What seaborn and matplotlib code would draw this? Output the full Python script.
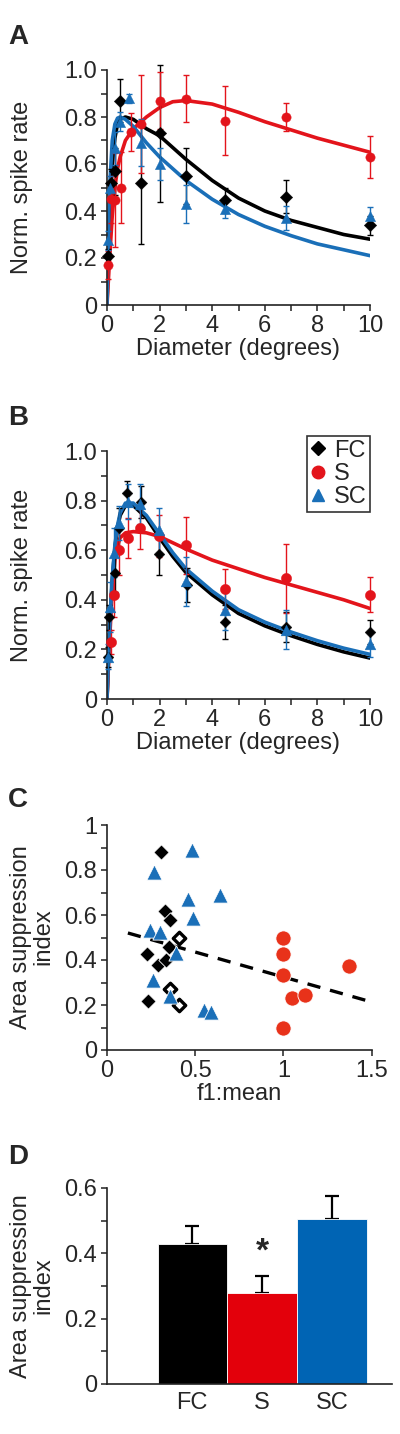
import numpy as np
import matplotlib
matplotlib.use("Agg")
import matplotlib.pyplot as plt
from matplotlib.lines import Line2D
import seaborn as sns

# ---- data ----
black = "#000000"
red = "#e3141b"
blue = "#1a6fb8"

# panel A: measured points (diameter in degrees)
a_fc_x = [0.05, 0.15, 0.3, 0.5, 1.3, 2.0, 3.0, 4.5, 6.8, 10.0]
a_fc_y = [0.21, 0.52, 0.57, 0.87, 0.52, 0.73, 0.55, 0.445, 0.46, 0.34]
a_fc_e = [0.03, 0.06, 0.10, 0.09, 0.26, 0.29, 0.12, 0.055, 0.07, 0.04]
a_s_x = [0.05, 0.17, 0.3, 0.55, 0.9, 1.3, 2.0, 3.0, 4.5, 6.8, 10.0]
a_s_y = [0.17, 0.45, 0.445, 0.50, 0.735, 0.77, 0.87, 0.877, 0.785, 0.80, 0.63]
a_s_e = [0.06, 0.10, 0.20, 0.15, 0.08, 0.21, 0.12, 0.10, 0.147, 0.06, 0.09]
a_sc_x = [0.05, 0.12, 0.3, 0.5, 0.85, 1.3, 2.0, 3.0, 4.5, 6.8, 10.0]
a_sc_y = [0.275, 0.50, 0.667, 0.78, 0.88, 0.69, 0.60, 0.43, 0.41, 0.37, 0.377]
a_sc_e = [0.04, 0.05, 0.07, 0.04, 0.02, 0.10, 0.07, 0.08, 0.04, 0.05, 0.04]

# panel A: fitted curves, read at these diameters
curve_x = [0, 0.05, 0.1, 0.2, 0.3, 0.4, 0.5, 0.7, 1, 1.5, 2, 2.5, 3, 4, 5, 6, 7, 8, 9, 10]
a_fc_fit = [0, 0.2, 0.38, 0.6, 0.71, 0.77, 0.79, 0.80, 0.79, 0.75, 0.72, 0.67, 0.62,
            0.53, 0.455, 0.40, 0.36, 0.33, 0.30, 0.28]
a_s_fit = [0, 0.1, 0.2, 0.38, 0.5, 0.58, 0.63, 0.70, 0.75, 0.80, 0.84, 0.865, 0.87,
           0.855, 0.82, 0.78, 0.745, 0.71, 0.68, 0.65]
a_sc_fit = [0, 0.3, 0.5, 0.7, 0.77, 0.795, 0.80, 0.79, 0.76, 0.69, 0.63, 0.58, 0.53,
            0.45, 0.385, 0.335, 0.295, 0.26, 0.235, 0.21]

# panel B: measured points
b_fc_x = [0.05, 0.09, 0.32, 0.45, 0.76, 1.31, 1.98, 3.05, 4.5, 6.8, 10.0]
b_fc_y = [0.17, 0.33, 0.51, 0.69, 0.83, 0.795, 0.585, 0.46, 0.31, 0.29, 0.27]
b_fc_e = [0.04, 0.05, 0.08, 0.08, 0.05, 0.065, 0.085, 0.07, 0.07, 0.06, 0.05]
b_s_x = [0.14, 0.27, 0.45, 0.8, 1.27, 1.98, 3.0, 4.5, 6.8, 10.0]
b_s_y = [0.23, 0.42, 0.60, 0.65, 0.69, 0.657, 0.62, 0.443, 0.486, 0.42]
b_s_e = [0.05, 0.09, 0.10, 0.08, 0.085, 0.085, 0.115, 0.08, 0.14, 0.07]
b_sc_x = [0.05, 0.1, 0.27, 0.45, 0.8, 1.27, 1.98, 3.0, 4.5, 6.8, 10.0]
b_sc_y = [0.17, 0.37, 0.59, 0.71, 0.795, 0.785, 0.68, 0.474, 0.36, 0.28, 0.22]
b_sc_e = [0.05, 0.10, 0.10, 0.07, 0.07, 0.08, 0.09, 0.10, 0.08, 0.08, 0.05]

# panel B: fitted curves
b_fc_fit = [0, 0.14, 0.28, 0.48, 0.61, 0.69, 0.74, 0.78, 0.78, 0.73, 0.65, 0.575, 0.51,
            0.42, 0.345, 0.295, 0.255, 0.22, 0.19, 0.165]
b_s_fit = [0, 0.12, 0.24, 0.44, 0.56, 0.62, 0.65, 0.67, 0.675, 0.67, 0.655, 0.63, 0.605,
           0.56, 0.525, 0.49, 0.46, 0.43, 0.40, 0.365]
b_sc_fit = [0, 0.15, 0.29, 0.49, 0.62, 0.70, 0.75, 0.79, 0.79, 0.74, 0.665, 0.59, 0.525,
            0.435, 0.36, 0.31, 0.27, 0.235, 0.205, 0.18]

# panel C: f1:mean vs area suppression index
c_fc_x = [0.306, 0.33, 0.358, 0.35, 0.23, 0.29, 0.335, 0.235]
c_fc_y = [0.88, 0.62, 0.58, 0.46, 0.427, 0.38, 0.40, 0.22]
c_fc_open_x = [0.41, 0.36, 0.41]
c_fc_open_y = [0.50, 0.27, 0.20]
c_sc_x = [0.48, 0.27, 0.64, 0.46, 0.49, 0.245, 0.30, 0.39, 0.26, 0.36, 0.55, 0.59]
c_sc_y = [0.89, 0.79, 0.69, 0.67, 0.585, 0.535, 0.525, 0.43, 0.31, 0.24, 0.18, 0.17]
c_s_x = [1.0, 1.0, 1.0, 1.05, 1.12, 1.37, 1.0]
c_s_y = [0.50, 0.427, 0.333, 0.23, 0.244, 0.373, 0.10]
c_fit_x = [0.12, 1.47]
c_fit_y = [0.52, 0.22]

# panel D: mean area suppression index
groups = ["FC", "S", "SC"]
d_mean = [0.43, 0.28, 0.505]
d_sem = [0.055, 0.05, 0.07]

# ---- style ----
sns.set_style("ticks")
plt.rcParams["font.family"] = ["Liberation Sans", "DejaVu Sans"]
plt.rcParams["axes.linewidth"] = 1.2
plt.rcParams["axes.edgecolor"] = "#222222"
fs = 17

fig = plt.figure(figsize=(4, 14.34), dpi=100)
H = 1434.0


def ax_at(left, top, right, bottom):
    return fig.add_axes([left / 400, 1 - bottom / H, (right - left) / 400, (bottom - top) / H])


def style_axis(ax):
    sns.despine(ax=ax)
    ax.tick_params(which="both", direction="out", length=4, width=1.1,
                   color="#222222", labelsize=fs, pad=3)


def tuning_panel(ax, pts, fits, marker_sizes):
    for (x, y, e, col, mk), fit in zip(pts, fits):
        sns.lineplot(x=curve_x, y=fit, ax=ax, color=col, lw=2.6, estimator=None,
                     sort=False, zorder=2)
    for (x, y, e, col, mk), s in zip(pts, marker_sizes):
        ax.errorbar(x, y, yerr=e, fmt="none", ecolor=col, elinewidth=1.0,
                    capsize=2, capthick=1.0, zorder=3, clip_on=False)
        sns.scatterplot(x=x, y=y, ax=ax, color=col, marker=mk, s=s,
                        edgecolor=col, linewidth=0.3, zorder=4, clip_on=False)
    ax.set_xlim(0, 10)
    ax.set_ylim(0, 1.0)
    ax.set_xticks([0, 2, 4, 6, 8, 10])
    ax.set_xticks(range(0, 11), minor=True)
    ax.set_yticks([0, 0.2, 0.4, 0.6, 0.8, 1.0])
    ax.set_yticklabels(["0", "0.2", "0.4", "0.6", "0.8", "1.0"])
    ax.set_yticks(np.arange(0, 1.01, 0.1), minor=True)
    ax.set_xlabel("Diameter (degrees)", fontsize=fs, labelpad=1)
    ax.set_ylabel("")
    style_axis(ax)


# ---- panel A ----
axA = ax_at(107, 70, 370, 305)
tuning_panel(
    axA,
    [(a_fc_x, a_fc_y, a_fc_e, black, "D"),
     (a_s_x, a_s_y, a_s_e, red, "o"),
     (a_sc_x, a_sc_y, a_sc_e, blue, "^")],
    [a_fc_fit, a_s_fit, a_sc_fit],
    [40, 45, 55],
)
fig.text(22 / 400, 1 - 187 / H, "Norm. spike rate", rotation=90, ha="center",
         va="center", fontsize=fs)

# ---- panel B ----
axB = ax_at(107, 451, 370, 699)
tuning_panel(
    axB,
    [(b_fc_x, b_fc_y, b_fc_e, black, "D"),
     (b_s_x, b_s_y, b_s_e, red, "o"),
     (b_sc_x, b_sc_y, b_sc_e, blue, "^")],
    [b_fc_fit, b_s_fit, b_sc_fit],
    [30, 55, 60],
)
fig.text(22 / 400, 1 - 575 / H, "Norm. spike rate", rotation=90, ha="center",
         va="center", fontsize=fs)
handles = [
    Line2D([], [], ls="none", marker="D", color=black, ms=7),
    Line2D([], [], ls="none", marker="o", color=red, ms=9),
    Line2D([], [], ls="none", marker="^", color=blue, ms=9),
]
leg = axB.legend(handles, groups, loc="upper right", bbox_to_anchor=(1.0, 1.06),
                 fontsize=fs, frameon=True, fancybox=False, edgecolor="black",
                 handlelength=0.7, handletextpad=0.3, borderpad=0.15,
                 labelspacing=0.05, borderaxespad=0)
leg.get_frame().set_linewidth(1.2)

# ---- panel C ----
axC = ax_at(106.7, 825, 371.7, 1050)
sns.lineplot(x=c_fit_x, y=c_fit_y, ax=axC, color=black, lw=2.4, ls=(0, (4, 3)),
             estimator=None, zorder=1)
sns.scatterplot(x=c_fc_x, y=c_fc_y, ax=axC, color=black, marker="D", s=60,
                edgecolor="white", linewidth=0.6, zorder=3)
sns.scatterplot(x=c_fc_open_x, y=c_fc_open_y, ax=axC, color="white", marker="D", s=40,
                edgecolor=black, linewidth=2.4, zorder=3)
sns.scatterplot(x=c_sc_x, y=c_sc_y, ax=axC, color=blue, marker="^", s=120,
                edgecolor="white", linewidth=0.6, zorder=4)
sns.scatterplot(x=c_s_x, y=c_s_y, ax=axC, color="#e8321a", marker="o", s=120,
                edgecolor="white", linewidth=0.6, zorder=4)
axC.set_xlim(0, 1.5)
axC.set_ylim(0, 1)
axC.set_xticks([0, 0.5, 1, 1.5])
axC.set_xticklabels(["0", "0.5", "1", "1.5"])
axC.set_yticks([0, 0.2, 0.4, 0.6, 0.8, 1])
axC.set_yticklabels(["0", "0.2", "0.4", "0.6", "0.8", "1"])
axC.set_yticks(np.arange(0, 1.01, 0.1), minor=True)
axC.set_xlabel("f1:mean", fontsize=fs, labelpad=1)
axC.set_ylabel("")
style_axis(axC)
fig.text(32 / 400, 1 - 937 / H, "Area suppression\nindex", rotation=90, ha="center",
         va="center", fontsize=fs, multialignment="center", linespacing=1.0)

# ---- panel D ----
axD = ax_at(107, 1188, 392, 1384)
sns.barplot(x=groups, y=d_mean, hue=groups, palette=[black, "#e3000b", "#0064b4"],
            ax=axD, width=0.99, legend=False, saturation=1, edgecolor="white",
            linewidth=0.6, zorder=2)
axD.errorbar([0, 1, 2], d_mean, yerr=[[0, 0, 0], d_sem], fmt="none", ecolor=black,
             elinewidth=1.6, capsize=5, capthick=1.6, zorder=1)
axD.text(1, 0.405, "*", ha="center", va="center", fontsize=24, fontweight="bold")
axD.set_xlim(-1.22, 2.86)
axD.set_ylim(0, 0.6)
axD.set_yticks([0, 0.2, 0.4, 0.6])
axD.set_yticklabels(["0", "0.2", "0.4", "0.6"])
axD.set_yticks(np.arange(0, 0.61, 0.1), minor=True)
axD.set_xlabel("")
axD.set_ylabel("")
style_axis(axD)
axD.tick_params(axis="x", length=0, pad=6)
fig.text(32 / 400, 1 - 1286 / H, "Area suppression\nindex", rotation=90, ha="center",
         va="center", fontsize=fs, multialignment="center", linespacing=1.0)

# ---- panel letters ----
for letter, y in [("A", 37), ("B", 418), ("C", 800), ("D", 1157)]:
    fig.text(8 / 400, 1 - y / H, letter, ha="left", va="center", fontsize=20,
             fontweight="bold")

fig.savefig("out.png", dpi=100)
